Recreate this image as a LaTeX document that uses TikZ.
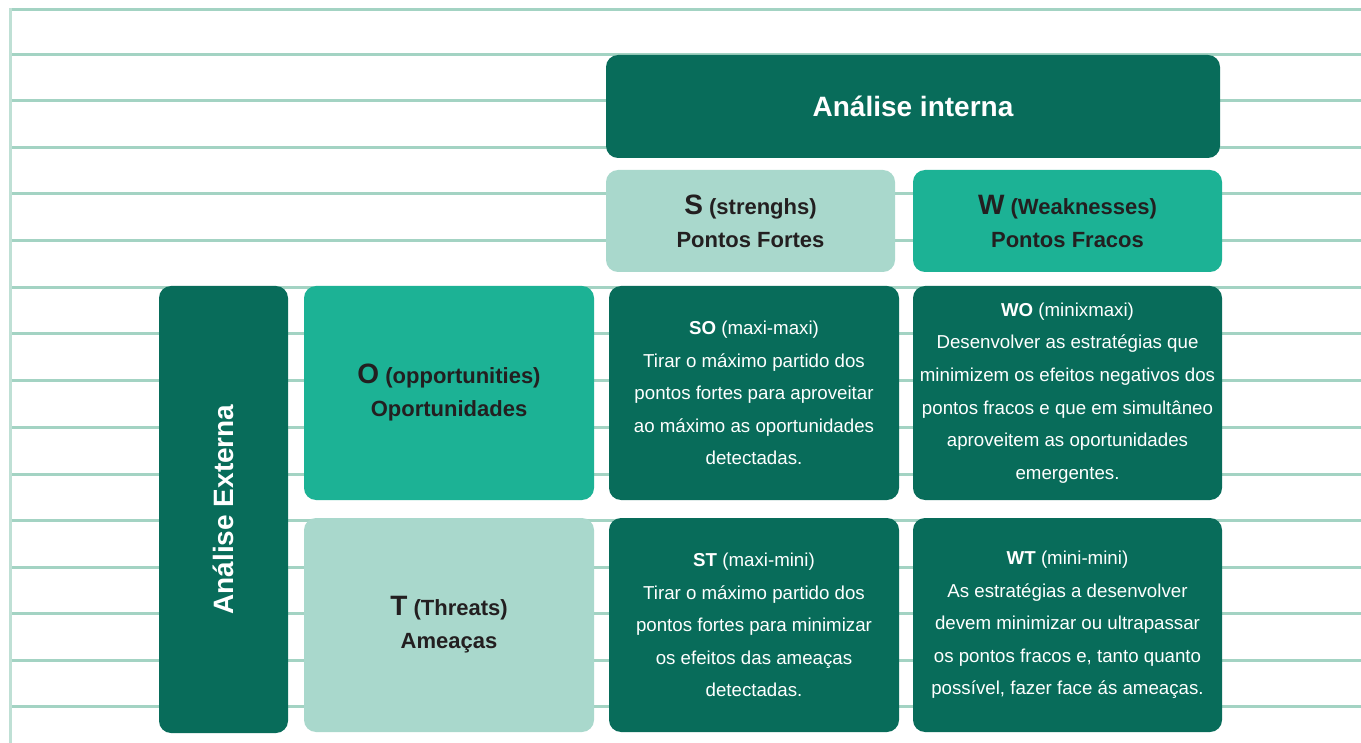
\documentclass[tikz,border=0pt]{standalone}
\usepackage{fontspec}
\setmainfont{Liberation Sans}
\usetikzlibrary{backgrounds}
\definecolor{dark}{HTML}{086C5A}
\definecolor{mid}{HTML}{1CB295}
\definecolor{light}{HTML}{A9D8CC}
\definecolor{rule}{HTML}{A3D3C3}
\definecolor{ink}{HTML}{231F20}
\tikzset{
  cell/.style={rounded corners=12pt, inner sep=0pt, align=center},
  darkcell/.style={cell, fill=dark, text=white, font=\fontsize{18.7}{32.6}\selectfont},
  headcell/.style={cell, text=ink, font=\bfseries\fontsize{22}{33}\selectfont},
  rulestyle/.style={draw=rule, line width=3pt},
}
\newcommand{\bigletter}[1]{{\fontsize{28}{33}\selectfont #1}}
\begin{document}
\begin{tikzpicture}[x=1pt,y=-1pt]
\useasboundingbox (0,0) rectangle (1361,743);
\fill[white] (0,0) rectangle (1361,743);
% ruled background
\foreach \yy in {10,55,101,148,194,241,288,334,381,427,474,520,567,613,660,706}
  \draw[rulestyle] (10,\yy) -- (1361,\yy);
\draw[rulestyle, draw=rule!70] (10,8.5) -- (10,743);

\node[cell, fill=dark, text=white, minimum width=614pt, minimum height=103pt,
  font=\bfseries\fontsize{28}{33}\selectfont] (intern) at (913,106.5) {Análise interna};
\node[headcell, fill=light, minimum width=289pt, minimum height=102pt] (S) at (750.5,221)
  {\bigletter{S} (strenghs)\\Pontos Fortes};
\node[headcell, fill=mid, minimum width=309pt, minimum height=102pt] (W) at (1067.5,221)
  {\bigletter{W} (Weaknesses)\\Pontos Fracos};
\node[cell, fill=dark, text=white, rotate=90, minimum width=447pt, minimum height=129pt,
  font=\bfseries\fontsize{28}{33}\selectfont] (ext) at (223.5,509.5) {Análise Externa};
\node[headcell, fill=mid, minimum width=290pt, minimum height=214pt] (O) at (449,393)
  {\bigletter{O} (opportunities)\\Oportunidades};
\node[headcell, fill=light, minimum width=290pt, minimum height=214pt] (T) at (449,625)
  {\bigletter{T} (Threats)\\Ameaças};
\node[darkcell, minimum width=290pt, minimum height=214pt] (SO) at (754,393)
  {\textbf{SO} (maxi-maxi)\\Tirar o máximo partido dos\\pontos fortes para aproveitar\\ao máximo as oportunidades\\detectadas.};
\node[darkcell, minimum width=309pt, minimum height=214pt] (WO) at (1067.5,393)
  {\textbf{WO} (minixmaxi)\\Desenvolver as estratégias que\\minimizem os efeitos negativos dos\\pontos fracos e que em simultâneo\\aproveitem as oportunidades\\emergentes.};
\node[darkcell, minimum width=290pt, minimum height=214pt] (ST) at (754,625)
  {\textbf{ST} (maxi-mini)\\Tirar o máximo partido dos\\pontos fortes para minimizar\\os efeitos das ameaças\\detectadas.};
\node[darkcell, minimum width=309pt, minimum height=214pt] (WT) at (1067.5,625)
  {\textbf{WT} (mini-mini)\\As estratégias a desenvolver\\devem minimizar ou ultrapassar\\os pontos fracos e, tanto quanto\\possível, fazer face ás ameaças.};

\begin{scope}[on background layer]
\foreach \n in {intern,S,W,O,T,SO,WO,ST,WT}{
  \foreach \d in {2,4,...,16}{
    \fill[black, opacity=0.008, rounded corners=12pt+\d pt]
      ([shift={(-\d pt+4pt,\d pt-2pt)}]\n.north west) rectangle ([shift={(\d pt+4pt,-\d pt-2pt)}]\n.south east);
  }
}
\foreach \d in {2,4,...,16}{
  \fill[black, opacity=0.008, rounded corners=12pt+\d pt]
    ([shift={(-\d pt+4pt,\d pt-2pt)}]ext.north east) rectangle ([shift={(\d pt+4pt,-\d pt-2pt)}]ext.south west);
}
\end{scope}
\end{tikzpicture}
\end{document}
